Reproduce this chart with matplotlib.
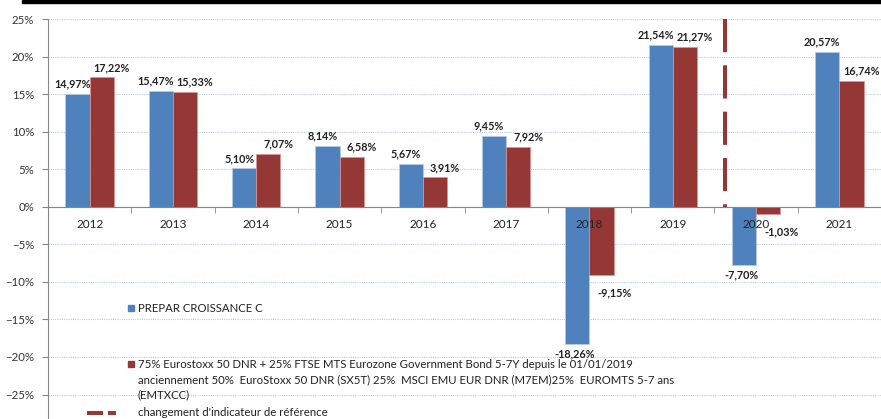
import matplotlib.pyplot as plt
from matplotlib.patches import Rectangle
from matplotlib.lines import Line2D
from matplotlib.ticker import FixedLocator, PercentFormatter

years = ["2012", "2013", "2014", "2015", "2016", "2017", "2018", "2019", "2020", "2021"]
fund = [14.97, 15.47, 5.10, 8.14, 5.67, 9.45, -18.26, 21.54, -7.70, 20.57]
bench = [17.22, 15.33, 7.07, 6.58, 3.91, 7.92, -9.15, 21.27, -1.03, 16.74]
yticks = [-25, -20, -15, -10, -5, 0, 5, 10, 15, 20, 25]
ref_change_x = 7.63

fund_name = "PREPAR CROISSANCE C"
bench_lines = [
    "75% Eurostoxx 50 DNR + 25% FTSE MTS Eurozone Government Bond 5-7Y depuis le 01/01/2019",
    "anciennement 50%  EuroStoxx 50 DNR (SX5T) 25%  MSCI EMU EUR DNR (M7EM)25%  EUROMTS 5-7 ans",
    "(EMTXCC)",
]
change_name = "changement d'indicateur de référence"

BLUE = "#4f81bd"
RED = "#953735"
W, H = 881, 419

plt.rcParams['font.family'] = ['Lato', 'DejaVu Sans']

fig = plt.figure(figsize=(W / 100, H / 100), dpi=100)
ax = fig.add_axes([48 / W, 0, 1 - 48 / W, (H - 19) / H])

x = range(len(years))
bw = 0.29
ax.bar([i - bw / 2 for i in x], fund, bw, color=BLUE, edgecolor="#b8cce4", linewidth=0.5, zorder=3)
ax.bar([i + bw / 2 for i in x], bench, bw, color=RED, edgecolor="#d99694", linewidth=0.5, zorder=3)

# data labels (offsets in px: above positive bars, below negative ones)
for i in x:
    for v, xi, dpos, dneg in ((fund[i], i - bw / 2, (-5, 10), (-3, -10)),
                              (bench[i], i + bw / 2, (10, 10), (13, -17))):
        dx, dy = dpos if v >= 0 else dneg
        ax.annotate(f"{v:.2f}%".replace(".", ","), (xi, v), xytext=(dx * 0.72, dy * 0.72),
                    textcoords="offset points", ha="center", va="center",
                    fontsize=7.8, fontweight="bold", color="#222222", zorder=5)

# change of benchmark
ax.plot([ref_change_x, ref_change_x], [25, 0], color=RED, linewidth=2.9,
        dashes=(8.25, 3.25), solid_capstyle="butt", dash_capstyle="butt", zorder=4)

ax.set_xlim(-0.5, len(years) - 0.5)
ax.set_ylim(-28.26, 25)
ax.set_yticks(yticks)
ax.yaxis.set_major_formatter(PercentFormatter(decimals=0))
ax.set_xticks(list(x))
ax.set_xticklabels(years)
ax.xaxis.set_minor_locator(FixedLocator([i + 0.5 for i in range(-1, len(years))]))
ax.tick_params(axis="x", which="major", length=0, pad=8.5, labelsize=8.5, labelcolor="#222222")
ax.tick_params(axis="x", which="minor", length=4, color="#868686", direction="out")
ax.tick_params(axis="y", length=4, color="#868686", pad=6, labelsize=8.2, labelcolor="#333333")
ax.xaxis.set_zorder(4.5)

for s in ("top", "right"):
    ax.spines[s].set_visible(False)
ax.spines["bottom"].set_position(("data", 0))
ax.spines["bottom"].set_color("#868686")
ax.spines["left"].set_color("#868686")
ax.spines["bottom"].set_zorder(4)
for t in yticks:
    ax.axhline(t, color="#b9cde5", linestyle=(0, (1, 1)), linewidth=0.8, zorder=0)

# black band on top
fig.add_artist(Rectangle((22 / W, (H - 3.5) / H), 1, 3.5 / H, transform=fig.transFigure,
                         color="black", clip_on=False))


def fy(py):
    return (H - py) / H


# legend drawn by hand
fig.add_artist(Rectangle((128 / W, fy(311)), 6 / W, 6 / H, transform=fig.transFigure, color=BLUE))
fig.text(138 / W, fy(308), fund_name, fontsize=8.2, va="center", color="#222222")
fig.add_artist(Rectangle((128 / W, fy(367)), 6 / W, 6 / H, transform=fig.transFigure, color=RED))
for k, line in enumerate(bench_lines):
    fig.text(138 / W, fy(364 + k * 15.5), line, fontsize=8.2, va="center", color="#222222")
fig.add_artist(Line2D([87 / W, 116 / W], [fy(413), fy(413)], transform=fig.transFigure,
                      color=RED, linewidth=2.9, dashes=(4, 1.2), dash_capstyle="butt"))
fig.text(138 / W, fy(412), change_name, fontsize=8.2, va="center", color="#222222")

fig.savefig("out.png", dpi=100)
